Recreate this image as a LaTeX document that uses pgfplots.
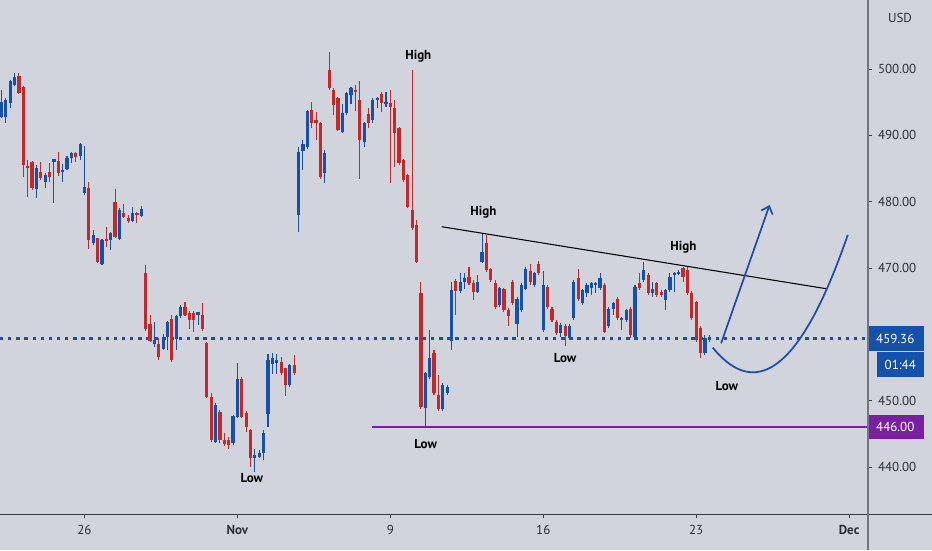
\documentclass[border=0pt]{standalone}
\usepackage{pgfplots}
\pgfplotsset{compat=1.18}
\usepackage{pgfplotstable}
\usepackage{fontspec}
\setmainfont{PT Sans}
\usetikzlibrary{arrows.meta}

\definecolor{bgc}{RGB}{209,212,220}
\definecolor{upc}{RGB}{21,80,170}
\definecolor{dnc}{RGB}{198,40,40}
\definecolor{purp}{RGB}{123,31,162}
\definecolor{axc}{RGB}{55,57,65}
\definecolor{vax}{RGB}{115,118,128}
\definecolor{txc}{RGB}{45,45,55}
\definecolor{annb}{RGB}{28,78,170}

\pgfplotstableread{
k o h l c
-19 492.83 496.84 492.57 495.09
-18 492.83 495.6 491.92 495.34
-17 494.84 498.35 494.08 498.25
-16 497.6 499.36 497.4 498.75
-15 498.96 499.36 496.19 496.44
-14 497.25 497.4 483.78 485.54
-13 485.4 486.29 480.77 485.2
-12 485.94 486.2 481.77 482.03
-11 481.87 485.54 480.51 485.04
-10 484.53 486.04 483.28 483.53
-9 483.03 484.3 482.03 484.03
-8 484.43 485.79 482.9 483.78
-7 486.04 486.5 479.76 486.44
-6 486.14 487.55 483.88 484.28
-5 484.6 485.7 482.9 484.8
-4 484.93 486.9 484.8 486.64
-3 486.64 487.55 485.8 487.4
-2 487.4 487.55 486.04 486.8
-1 486.9 488.8 486.29 488.7
0 481.27 488.4 481.0 482.27
1 482.03 482.9 472.83 474.23
2 473.83 475.8 473.5 474.99
3 474.5 474.6 470.8 470.97
4 470.6 474.4 470.5 474.23
5 474.39 476.24 473.2 474.13
6 474.23 475.4 472.73 475.24
7 480.0 481.87 474.5 474.74
8 474.38 479.0 474.2 478.76
9 478.25 479.66 477.5 477.75
10 477.6 478.0 476.75 477.1
11 477.15 479.15 477.0 478.35
12 478.25 478.4 476.75 478.0
13 477.9 479.4 477.75 478.9
14 469.2 470.46 460.5 460.76
15 461.56 462.9 458.8 459.05
16 458.5 461.9 458.1 459.2
17 458.55 459.4 456.1 456.64
18 457.75 460.0 457.6 459.55
19 459.55 462.0 457.6 461.9
20 462.27 462.9 455.9 456.14
21 459.3 462.9 457.6 462.8
22 462.8 464.5 462.5 464.2
23 464.2 464.9 462.7 462.9
24 463.27 463.5 460.76 462.17
25 463.2 463.5 460.4 462.2
26 462.9 463.4 461.4 463.4
27 462.9 464.7 460.5 460.76
28 458.65 458.9 450.4 450.61
29 450.6 451.1 443.8 444.08
30 443.83 449.6 443.6 449.35
31 448.35 448.6 443.6 444.08
32 444.08 445.2 443.2 443.47
33 444.1 444.5 442.67 443.3
34 443.57 447.9 443.3 447.7
35 447.6 455.74 447.4 453.27
36 453.27 453.5 447.4 447.6
37 448.1 448.4 445.33 446.1
38 445.58 445.8 440.06 441.31
39 441.3 442.67 439.3 441.8
40 441.56 442.5 441.3 442.06
41 442.07 445.58 441.06 445.18
42 448.0 457.1 446.08 456.14
43 455.6 457.2 454.1 456.4
44 455.64 457.1 454.1 456.14
45 455.9 456.64 453.9 454.13
46 454.88 454.9 450.71 452.37
47 452.37 455.5 452.1 455.38
48 455.38 456.9 453.9 454.13
49 477.99 488.3 475.48 487.55
50 487.7 489.3 484.78 488.7
51 488.2 493.8 488.0 493.7
52 493.83 495.08 491.06 491.9
53 492.3 493.6 489.3 491.9
54 491.8 492.0 483.5 483.8
55 484.3 487.8 482.77 487.3
56 499.86 502.6 496.84 497.1
57 496.84 497.1 493.07 494.58
58 495.58 495.8 490.6 490.8
59 490.56 494.8 490.3 493.33
60 493.33 496.6 493.0 496.4
61 496.1 497.35 494.8 497.1
62 496.84 497.6 493.6 496.6
63 495.33 498.25 483.37 489.3
64 489.05 492.0 488.3 491.8
65 493.2 494.08 491.06 491.8
66 492.3 495.6 491.8 495.4
67 495.3 495.8 494.08 495.58
68 496.3 496.6 493.6 494.83
69 494.8 496.6 494.33 495.1
70 494.83 496.84 482.77 494.33
71 494.08 495.33 485.28 490.31
72 491.06 491.3 485.5 485.79
73 486.29 486.5 483.0 483.27
74 484.03 484.2 479.0 479.25
75 478.75 499.86 475.7 475.99
76 476.49 477.24 470.7 470.96
77 466.18 467.95 448.8 449.1
78 448.85 454.4 446.09 454.13
79 453.6 460.66 453.3 456.4
80 457.24 457.6 450.9 451.11
81 450.86 453.9 448.4 448.7
82 448.7 452.6 448.4 452.4
83 451.1 452.4 450.9 452.1
84 459.0 467.9 457.7 466.7
85 468.1 468.4 462.9 466.6
86 466.6 469.2 466.3 467.95
87 467.95 469.2 466.9 468.45
88 468.7 470.2 467.4 467.7
89 467.8 468.2 465.2 466.45
90 466.45 468.95 466.2 467.95
91 470.96 475.23 470.7 472.47
92 473.7 474.98 469.4 469.7
93 469.8 470.0 467.9 468.2
94 467.8 468.2 463.9 464.2
95 464.43 467.2 464.2 466.94
96 466.8 467.0 463.4 463.7
97 463.7 464.0 461.2 462.7
98 467.95 468.2 464.4 464.7
99 461.5 465.6 459.6 465.3
100 463.7 467.7 463.4 467.45
101 466.9 470.2 466.7 469.8
102 469.6 470.6 467.4 467.9
103 467.45 469.4 467.2 469.2
104 470.6 471.0 469.0 469.2
105 460.66 469.5 460.4 467.45
106 467.2 467.5 463.9 464.2
107 463.9 464.2 461.9 462.2
108 461.9 462.1 459.9 460.2
109 460.2 461.7 459.6 461.4
110 461.3 461.6 458.25 459.7
111 459.4 461.6 459.2 461.3
112 462.4 468.2 462.1 467.95
113 468.45 469.8 465.1 465.4
114 464.7 466.9 464.4 466.7
115 466.2 467.7 465.7 467.45
116 466.94 467.95 465.9 467.7
117 467.45 467.95 466.2 467.7
118 466.94 469.2 466.7 468.45
119 467.45 467.7 460.2 460.4
120 461.2 464.2 460.9 463.9
121 463.9 464.9 462.9 464.7
122 465.4 465.6 462.1 462.4
123 462.2 462.6 460.66 462.4
124 462.2 463.9 461.9 463.7
125 463.9 464.2 459.4 459.9
126 459.65 467.45 459.4 467.2
127 467.7 469.2 466.7 466.94
128 468.2 470.96 467.95 469.7
129 468.95 469.2 465.9 466.2
130 466.2 467.95 465.7 466.8
131 467.7 467.95 465.7 465.9
132 466.45 466.7 465.6 465.9
133 465.2 466.9 463.7 466.7
134 466.7 469.2 466.45 468.7
135 468.95 469.45 466.45 469.2
136 469.2 469.7 468.95 469.45
137 469.95 470.2 467.95 468.7
138 469.7 470.2 466.0 466.3
139 466.3 466.5 462.1 462.4
140 464.9 465.1 458.9 459.2
141 460.9 461.2 456.4 457.15
142 457.15 459.9 456.9 459.4
143 459.2 459.9 458.9 459.36
}\candles

\begin{document}
\begin{tikzpicture}[font=\fontsize{9.75}{11}\selectfont]
\useasboundingbox (0,-27pt) rectangle (699pt,385.5pt);
\fill[bgc] (0,-27pt) rectangle (699pt,385.5pt);
\begin{axis}[
  at={(0,0)}, anchor=south west,
  scale only axis, width=651pt, height=385.5pt,
  xmin=-19.34, xmax=179.33, ymin=432.92, ymax=510.41,
  axis x line*=bottom, axis y line*=right,
  axis line style={draw=none},
  tick align=outside, major tick length=3pt,
  tick style={draw=axc, line width=0.75pt},
  xtick={0,35,70,105,140,175},
  xticklabels={26,\textbf{Nov},9,16,23,\textbf{Dec}},
  ytick={440,450,...,500},
  yticklabels={440.00,450.00,,470.00,480.00,490.00,500.00},
  ticklabel style={text=txc, font=\fontsize{9.75}{11}\selectfont},
  xticklabel style={yshift=-2pt},
  yticklabel style={xshift=1pt},
  clip=false,
  candle/.style={draw=none, no markers, forget plot, restrict y to domain=400:600,
    error bars/.cd, y dir=both, y explicit, error mark=none},
]
% reference lines
\draw[upc, line width=2.25pt, dash pattern=on 2.5pt off 3.6pt] (axis cs:-19.34,459.36) -- (axis cs:179.33,459.36);
\draw[purp, line width=1.5pt] (axis cs:65.8,446) -- (axis cs:179.33,446);

% wicks
\addplot[candle, error bar style={draw=upc, line width=0.8pt}]
  table[x=k, y expr={\thisrow{c}<\thisrow{o} ? 1000 : (\thisrow{h}+\thisrow{l})/2},
        y error expr={(\thisrow{h}-\thisrow{l})/2}] {\candles};
\addplot[candle, error bar style={draw=dnc, line width=0.8pt}]
  table[x=k, y expr={\thisrow{c}<\thisrow{o} ? (\thisrow{h}+\thisrow{l})/2 : 1000},
        y error expr={(\thisrow{h}-\thisrow{l})/2}] {\candles};
% bodies
\addplot[candle, error bar style={draw=upc, line width=2.4pt}]
  table[x=k, y expr={\thisrow{c}<\thisrow{o} ? 1000 : (\thisrow{o}+\thisrow{c})/2},
        y error expr={max(abs(\thisrow{c}-\thisrow{o})/2,0.12)}] {\candles};
\addplot[candle, error bar style={draw=dnc, line width=2.4pt}]
  table[x=k, y expr={\thisrow{c}<\thisrow{o} ? (\thisrow{o}+\thisrow{c})/2 : 1000},
        y error expr={max(abs(\thisrow{c}-\thisrow{o})/2,0.12)}] {\candles};

% trend line
\draw[black, line width=0.8pt] (axis cs:81.76,476.23) -- (axis cs:169.7,466.89);
% projection arrow and curve
\draw[annb, line width=1.3pt, -{Straight Barb[length=5pt, width=9pt]}] (axis cs:145.7,458.65) -- (axis cs:156.8,479.5);
\draw[annb, line width=1.3pt] (axis cs:143.8,458.0) .. controls (axis cs:154.1,449.67) and (axis cs:164.4,455.33) .. (axis cs:174.7,475.0);

% annotations
\begin{scope}[every node/.style={font=\fontsize{9.75}{11}\selectfont\bfseries, text=black}]
\node at (axis cs:76.4,502.0) {High};
\node at (axis cs:91.3,478.4) {High};
\node at (axis cs:137.1,473.1) {High};
\node at (axis cs:38.3,438.35) {Low};
\node at (axis cs:78.1,443.4) {Low};
\node at (axis cs:110.0,456.5) {Low};
\node at (axis cs:147.0,452.2) {Low};
\end{scope}

% price boxes
\node[fill=upc, text=white, inner sep=0pt, minimum width=42.5pt, minimum height=18.75pt, anchor=west, xshift=-1pt, font=\fontsize{9.75}{11}\selectfont] at (axis cs:179.33,459.36) {459.36};
\node[fill=upc, text=white, inner sep=0pt, minimum width=35pt, minimum height=18.3pt, anchor=west, xshift=6.5pt, font=\fontsize{9.75}{11}\selectfont] at (axis cs:179.33,455.46) {01:44};
\node[fill=purp, text=white, inner sep=0pt, minimum width=42.5pt, minimum height=18.2pt, anchor=west, xshift=-1pt, font=\fontsize{9.75}{11}\selectfont] at (axis cs:179.33,446) {446.00};
\node[text=txc, font=\fontsize{9.75}{11}\selectfont] at (axis cs:186.66,507.7) {USD};
\end{axis}
\draw[axc, line width=0.75pt] (0,0) -- (699pt,0);
\draw[vax, line width=0.9pt] (651pt,-27pt) -- (651pt,385.5pt);
\end{tikzpicture}
\end{document}
